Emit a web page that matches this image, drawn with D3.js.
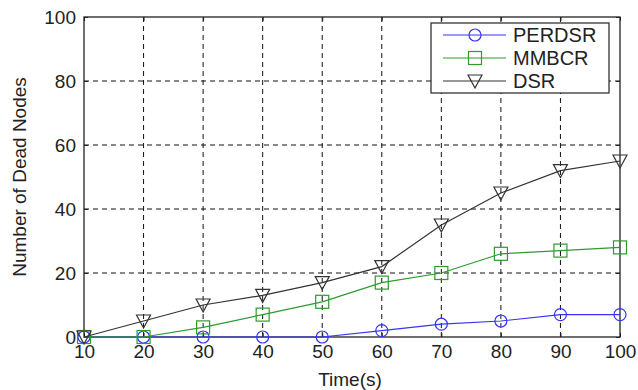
<!DOCTYPE html>
<html>
<head>
<meta charset="utf-8">
<script src="https://cdn.jsdelivr.net/npm/d3@7"></script>
<style>
  html, body { margin: 0; padding: 0; background: #fff; }
  svg { display: block; }
  text { font-family: "Liberation Sans", Arial, sans-serif; fill: #222; }
</style>
</head>
<body>
<svg id="chart" width="638" height="390"></svg>
<script>
// ---- data ----
const times = [10, 20, 30, 40, 50, 60, 70, 80, 90, 100];
const perdsr = [0, 0, 0, 0, 0, 2, 4, 5, 7, 7];
const mmbcr  = [0, 0, 3, 7, 11, 17, 20, 26, 27, 28];
const dsr    = [0, 5, 10, 13, 17, 22, 35, 45, 52, 55];
const seriesNames = ["PERDSR", "MMBCR", "DSR"];
const xTicks = [10, 20, 30, 40, 50, 60, 70, 80, 90, 100];
const yTicks = [0, 20, 40, 60, 80, 100];
const xLabel = "Time(s)";
const yLabel = "Number of Dead Nodes";

// ---- layout ----
const svg = d3.select("#chart");
const L = 84, R = 620, T = 17, B = 337;
const x = d3.scaleLinear().domain([10, 100]).range([L, R]);
const y = d3.scaleLinear().domain([0, 100]).range([B, T]);

const series = [
  { name: seriesNames[0], values: perdsr, color: "#3535f5", marker: "circle" },
  { name: seriesNames[1], values: mmbcr,  color: "#2f9a2f", marker: "square" },
  { name: seriesNames[2], values: dsr,    color: "#333333", marker: "triangle" }
];

// ---- grid ----
const grid = svg.append("g").attr("stroke", "#111").attr("stroke-width", 1)
  .attr("stroke-dasharray", "5,4");
xTicks.filter(t => t > 10 && t < 100).forEach(t => {
  grid.append("line").attr("x1", x(t)).attr("x2", x(t)).attr("y1", B).attr("y2", T);
});
yTicks.filter(t => t > 0 && t < 100).forEach(t => {
  grid.append("line").attr("x1", L).attr("x2", R).attr("y1", y(t)).attr("y2", y(t));
});

// ---- axes ----
const fs = 19;
const xAxis = d3.axisBottom(x).tickValues(xTicks).tickSize(-4).tickPadding(8);
const gx = svg.append("g").attr("transform", `translate(0,${B})`).call(xAxis);
gx.select(".domain").remove();
gx.selectAll("line").attr("stroke", "#222");
gx.selectAll("text").attr("font-size", fs).attr("fill", "#222")
  .attr("font-family", "Liberation Sans, Arial, sans-serif");

const yAxis = d3.axisLeft(y).tickValues(yTicks).tickSize(-4).tickPadding(8);
const gy = svg.append("g").attr("transform", `translate(${L},0)`).call(yAxis);
gy.select(".domain").remove();
gy.selectAll("line").attr("stroke", "#222");
gy.selectAll("text").attr("font-size", fs).attr("fill", "#222")
  .attr("font-family", "Liberation Sans, Arial, sans-serif");

// top and right ticks (inward)
const tTop = svg.append("g").attr("transform", `translate(0,${T})`)
  .call(d3.axisTop(x).tickValues(xTicks).tickSize(-4).tickFormat(""));
tTop.select(".domain").remove();
tTop.selectAll("line").attr("stroke", "#222");
const tRight = svg.append("g").attr("transform", `translate(${R},0)`)
  .call(d3.axisRight(y).tickValues(yTicks).tickSize(-4).tickFormat(""));
tRight.select(".domain").remove();
tRight.selectAll("line").attr("stroke", "#222");

// box
svg.append("rect").attr("x", L).attr("y", T).attr("width", R - L).attr("height", B - T)
  .attr("fill", "none").attr("stroke", "#222").attr("stroke-width", 1.3);

// ---- labels ----
svg.append("text").attr("x", (L + R) / 2 - 2).attr("y", 386)
  .attr("text-anchor", "middle").attr("font-size", fs).text(xLabel);
svg.append("text").attr("transform", `translate(26,${(T + B) / 2}) rotate(-90)`)
  .attr("text-anchor", "middle").attr("font-size", fs).text(yLabel);

// ---- markers ----
function drawMarker(g, type, cx, cy, color) {
  if (type === "circle") {
    g.append("circle").attr("cx", cx).attr("cy", cy).attr("r", 6)
      .attr("fill", "none").attr("stroke", color).attr("stroke-width", 1.2);
  } else if (type === "square") {
    g.append("rect").attr("x", cx - 6.5).attr("y", cy - 6.5).attr("width", 13).attr("height", 13)
      .attr("fill", "none").attr("stroke", color).attr("stroke-width", 1.2);
  } else {
    const h = 7;
    g.append("path").attr("d", `M${cx - h},${cy - h + 1}L${cx + h},${cy - h + 1}L${cx},${cy + h}Z`)
      .attr("fill", "none").attr("stroke", color).attr("stroke-width", 1.2);
  }
}

const lineGen = d3.line().x(d => x(d[0])).y(d => y(d[1]));
series.forEach(s => {
  const pts = times.map((t, i) => [t, s.values[i]]);
  const g = svg.append("g");
  g.append("path").datum(pts).attr("d", lineGen)
    .attr("fill", "none").attr("stroke", s.color).attr("stroke-width", 1.2);
  pts.forEach(p => drawMarker(g, s.marker, x(p[0]), y(p[1]), s.color));
});

// ---- legend ----
const lg = svg.append("g");
lg.append("rect").attr("x", 431).attr("y", 23).attr("width", 178).attr("height", 70)
  .attr("fill", "#fff").attr("stroke", "#222").attr("stroke-width", 1.2);
const rowY = [35, 58, 81];
series.forEach((s, i) => {
  const ry = rowY[i];
  lg.append("line").attr("x1", 443).attr("x2", 506).attr("y1", ry).attr("y2", ry)
    .attr("stroke", s.color).attr("stroke-width", 1.2);
  drawMarker(lg, s.marker, 475, ry, s.color);
  lg.append("text").attr("x", 513).attr("y", ry + 7).attr("font-size", 20).text(s.name);
});
</script>
</body>
</html>
